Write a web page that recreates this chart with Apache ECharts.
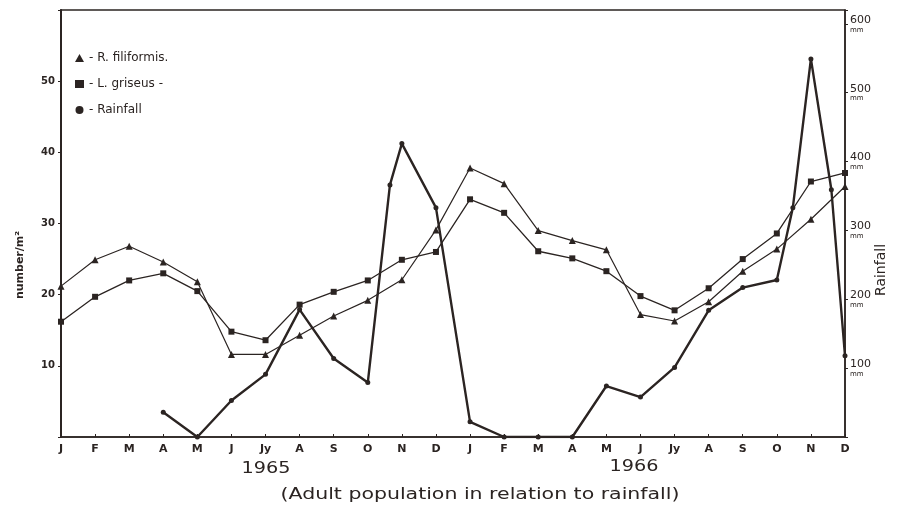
<!DOCTYPE html>
<html><head><meta charset="utf-8">
<script src="https://cdn.jsdelivr.net/npm/echarts@6/dist/echarts.min.js"></script>
<style>html,body{margin:0;padding:0;background:#fff}#c{width:918px;height:512px}</style>
</head><body><div id="c"></div>
<script>
var months = ['J','F','M','A','M','J','Jy','A','S','O','N','D','J','F','M','A','M','J','Jy','A','S','O','N','D'];
var filiformis = [21.2,24.9,26.8,24.6,21.8,11.6,11.6,14.3,17.0,19.2,22.1,29.1,37.8,35.6,29.0,27.6,26.3,17.2,16.3,19.0,23.3,26.4,30.6,35.2];
var griseus = [16.2,19.7,22.0,23.0,20.5,14.8,13.6,18.6,20.4,22.0,24.9,26.0,33.4,31.5,26.1,25.1,23.3,19.8,17.8,20.9,25.0,28.6,35.9,37.1];
var rainX  = [3,4,5,6,7,8,9,9.65,10,11,12,13,14,15,16,17,18,19,20,21,21.47,22,22.6,23];
var rainMm = [36,0,53,91,185,114,79,366,426,333,22,0,0,0,74,58,101,184,217,228,333,549,359,118];
var leftTicks = [10,20,30,40,50];
var rightTicks = [100,200,300,400,500,600];

var ink = '#2b2422';
function pairs(xs, ys){ return ys.map(function(v,i){ return [xs[i], v]; }); }
var idx = months.map(function(m,i){ return i; });

var chart = echarts.init(document.getElementById('c'), null, {renderer:'canvas'});
chart.setOption({
  backgroundColor:'#fff',
  animation:false,
  textStyle:{fontFamily:'DejaVu Sans', color:ink},
  grid:{left:61, right:73, top:10, bottom:75, show:true, borderColor:ink, borderWidth:1.5},
  legend:{
    left:70, top:47, orient:'vertical', itemGap:14, itemWidth:9, itemHeight:8,
    textStyle:{fontSize:12, color:ink, fontFamily:'DejaVu Sans'},
    formatter:function(n){ return n==='Rainfall' ? '- Rainfall' : n==='R. filiformis' ? '- R. filiformis.' : '- L. griseus -'; },
    data:[{name:'R. filiformis', icon:'triangle'},{name:'L. griseus', icon:'rect'},{name:'Rainfall', icon:'circle'}]
  },
  xAxis:{
    type:'value', min:0, max:23, interval:1,
    axisLine:{lineStyle:{color:ink, width:1.5}},
    axisTick:{inside:true, length:3, lineStyle:{color:ink}},
    splitLine:{show:false},
    axisLabel:{color:ink, fontSize:11, fontWeight:'bold', margin:7, formatter:function(v){ return months[v]||''; }}
  },
  yAxis:[{
    type:'value', min:0, max:60, interval:10,
    axisLine:{show:true, lineStyle:{color:ink, width:2}},
    axisTick:{show:true, length:3, lineStyle:{color:ink}},
    splitLine:{show:false},
    axisLabel:{color:ink, fontSize:10, fontWeight:'bold', margin:6, formatter:function(v){ return leftTicks.indexOf(v)>=0 ? String(v) : ''; }}
  },{
    type:'value', min:0, max:620, interval:100, position:'right',
    axisLine:{show:true, lineStyle:{color:ink, width:1.5}},
    axisTick:{show:true, length:3, inside:false, lineStyle:{color:ink}},
    splitLine:{show:false},
    axisLabel:{color:ink, margin:5, lineHeight:10, formatter:function(v){ return rightTicks.indexOf(v)>=0 ? '{a|'+v+'}\n{b|mm}' : ''; },
      rich:{a:{fontSize:11, color:ink, lineHeight:12}, b:{fontSize:7, color:ink, lineHeight:8}}}
  }],
  graphic:[
    {type:'text', x:266, y:469, scaleX:1.2, style:{text:'1965', fontSize:16, fill:ink, fontFamily:'DejaVu Sans', align:'center', verticalAlign:'middle', textAlign:'center', textVerticalAlign:'middle'}},
    {type:'text', x:634, y:467, scaleX:1.2, style:{text:'1966', fontSize:16, fill:ink, fontFamily:'DejaVu Sans', align:'center', verticalAlign:'middle', textAlign:'center', textVerticalAlign:'middle'}},
    {type:'text', x:480, y:495, scaleX:1.28, style:{text:'(Adult population in relation to rainfall)', fontSize:16, fill:ink, fontFamily:'DejaVu Sans', align:'center', verticalAlign:'middle', textAlign:'center', textVerticalAlign:'middle'}},
    {type:'text', x:20, y:265, rotation:Math.PI/2, style:{text:'number/m²', fontSize:11, fontWeight:'bold', fill:ink, fontFamily:'DejaVu Sans', align:'center', verticalAlign:'middle', textAlign:'center', textVerticalAlign:'middle'}},
    {type:'text', x:881, y:270, rotation:Math.PI/2, style:{text:'Rainfall', fontSize:14, fill:ink, fontFamily:'DejaVu Sans', align:'center', verticalAlign:'middle', textAlign:'center', textVerticalAlign:'middle'}}
  ],
  series:[
    {name:'R. filiformis', type:'line', yAxisIndex:0, data:pairs(idx, filiformis), symbol:'triangle', symbolSize:7,
     lineStyle:{color:ink, width:1.2}, itemStyle:{color:ink}},
    {name:'L. griseus', type:'line', yAxisIndex:0, data:pairs(idx, griseus), symbol:'rect', symbolSize:6,
     lineStyle:{color:ink, width:1.3}, itemStyle:{color:ink}},
    {name:'Rainfall', type:'line', yAxisIndex:1, data:pairs(rainX, rainMm), symbol:'circle', symbolSize:5,
     lineStyle:{color:ink, width:2.4}, itemStyle:{color:ink}}
  ]
});
</script></body></html>
